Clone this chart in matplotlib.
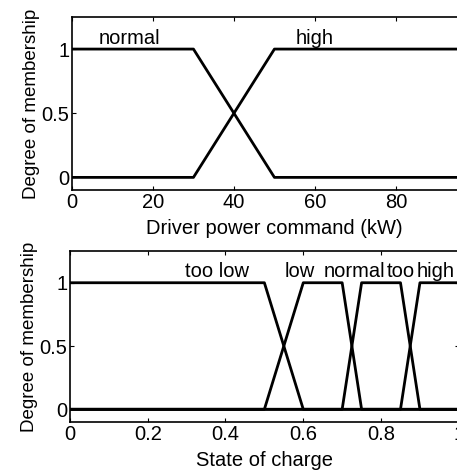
import numpy as np
from matplotlib import pyplot as plt

plt.rcParams['font.family'] = ['Liberation Sans', 'DejaVu Sans']

# driver power command membership functions (kW)
power_x_normal = [0, 30, 50, 100]
power_y_normal = [1, 1, 0, 0]
power_x_high = [0, 30, 50, 100]
power_y_high = [0, 0, 1, 1]
power_ticks = [0, 20, 40, 60, 80]

# state of charge membership functions
soc_x_toolow = [0, 0.5, 0.6, 1.0]
soc_y_toolow = [1, 1, 0, 0]
soc_x_low = [0, 0.5, 0.6, 0.7, 0.75, 1.0]
soc_y_low = [0, 0, 1, 1, 0, 0]
soc_x_normal = [0, 0.7, 0.75, 0.85, 0.9, 1.0]
soc_y_normal = [0, 0, 1, 1, 0, 0]
soc_x_toohigh = [0, 0.85, 0.9, 1.0]
soc_y_toohigh = [0, 0, 1, 1]
soc_ticks = [0, 0.2, 0.4, 0.6, 0.8, 1]

fs = 14.5
fig = plt.figure(figsize=(4.57, 4.72), dpi=100)

# axes deliberately run past the right edge (reference is cropped)
ax1 = fig.add_axes([0.1575, 0.597, 0.886, 0.367])
ax1.plot(power_x_normal, power_y_normal, color='black', lw=2)
ax1.plot(power_x_high, power_y_high, color='black', lw=2)
ax1.set_xlim(0, 100)
ax1.set_ylim(-0.1, 1.25)
ax1.set_xticks(power_ticks)
ax1.set_xticks([100], minor=True)
ax1.set_yticks([0, 0.5, 1])
ax1.set_yticklabels(['0', '0.5', '1'])
ax1.text(6.5, 1.08, 'normal', fontsize=fs, ha='left', va='center')
ax1.text(60, 1.08, 'high', fontsize=fs, ha='center', va='center')
ax1.set_xlabel('Driver power command (kW)', fontsize=fs, labelpad=5)
ax1.set_ylabel('Degree of membership', fontsize=13.5, labelpad=1)

ax2 = fig.add_axes([0.153, 0.106, 0.851, 0.362])
ax2.plot(soc_x_toolow, soc_y_toolow, color='black', lw=2)
ax2.plot(soc_x_low, soc_y_low, color='black', lw=2)
ax2.plot(soc_x_normal, soc_y_normal, color='black', lw=2)
ax2.plot(soc_x_toohigh, soc_y_toohigh, color='black', lw=2)
ax2.set_xlim(0, 1)
ax2.set_ylim(-0.1, 1.25)
ax2.set_xticks(soc_ticks)
ax2.set_xticklabels(['0', '0.2', '0.4', '0.6', '0.8', '1'])
ax2.set_yticks([0, 0.5, 1])
ax2.set_yticklabels(['0', '0.5', '1'])
ax2.text(0.378, 1.09, 'too low', fontsize=fs, ha='center', va='center')
ax2.text(0.59, 1.09, 'low', fontsize=fs, ha='center', va='center')
ax2.text(0.733, 1.09, 'normal', fontsize=fs, ha='center', va='center')
ax2.text(0.85, 1.09, 'too', fontsize=fs, ha='center', va='center')
ax2.text(0.94, 1.09, 'high', fontsize=fs, ha='center', va='center')
ax2.set_xlabel('State of charge', fontsize=fs, labelpad=5)
ax2.set_ylabel('Degree of membership', fontsize=13.5, labelpad=1)

for ax in (ax1, ax2):
    ax.tick_params(which='both', direction='in', top=True, right=True, labelsize=fs, length=3, pad=2)
    for s in ax.spines.values():
        s.set_linewidth(1.2)

fig.savefig('out.png', dpi=100)
